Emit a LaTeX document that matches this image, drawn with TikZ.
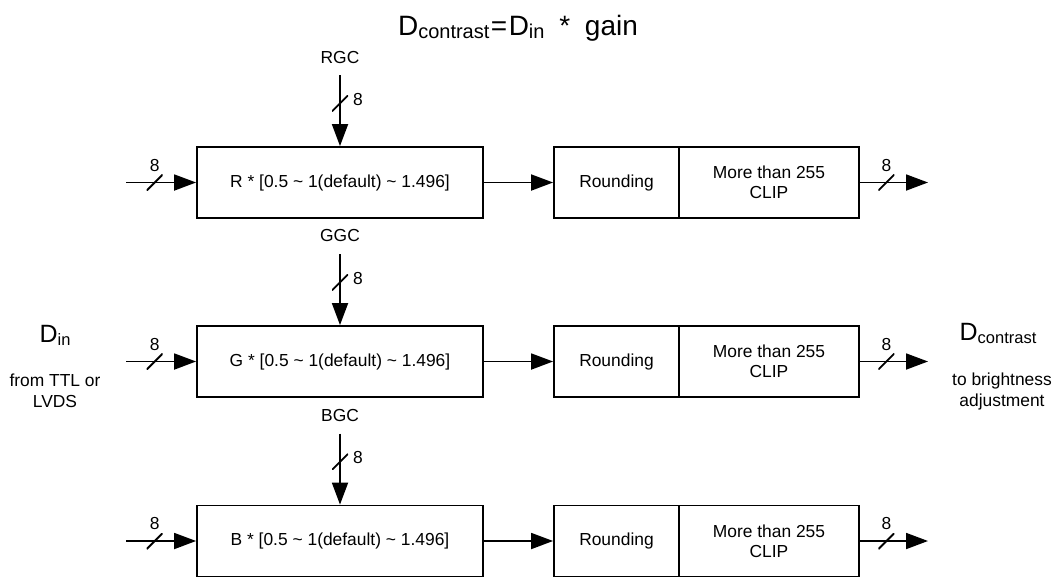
\documentclass[tikz,border=0pt]{standalone}
\usepackage{fontspec}
\setmainfont{Liberation Sans}
\usetikzlibrary{arrows.meta,calc}

\newcommand{\lowtxt}[2]{\raisebox{-0.14em}{\fontsize{#1}{#1}\selectfont #2}}

\begin{document}
\begin{tikzpicture}[
  x=1pt, y=-1pt,
  >={Triangle[length=22pt,width=16pt]},
  line width=1.8pt,
  font=\fontsize{17.4}{20}\selectfont,
  blk/.style={draw, minimum height=71pt, minimum width=#1, inner sep=0pt, align=center},
  arr/.style={->},
  bus/.style={inner sep=0pt, minimum size=16pt,
    path picture={\draw[-] (path picture bounding box.south west) -- (path picture bounding box.north east);}},
  note/.style={align=center, font=\fontsize{17.4}{21}\selectfont},
]
\useasboundingbox (0,0) rectangle (1055,576);

% ---- title ----
\node[font=\fontsize{28}{32}\selectfont, anchor=base] (title) at (518,35)
  {D\lowtxt{20}{contrast}\hspace{1.5pt}=\hspace{1.5pt}D\lowtxt{20}{in}\hspace{7pt} *\hspace{7pt} gain};

% ---- side labels ----
\node[font=\fontsize{25}{28}\selectfont, anchor=base] (din) at (55,342) {D\lowtxt{16.5}{in}};
\node[note] (dinnote) at (55,391) {from TTL or\\LVDS};
\node[font=\fontsize{25}{28}\selectfont, anchor=base] (dout) at (998,340) {D\lowtxt{16.5}{contrast}};
\node[note] (doutnote) at (1002,391) {to brightness\\adjustment};

% ---- R row ----
\node (rgc) at (340,58) {RGC};
\node[blk=286pt] (rmul) at (340,182.5) {R * [0.5 \textasciitilde{} 1(default) \textasciitilde{} 1.496]};
\node[blk=125pt] (rround) at (616.5,182.5) {Rounding};
\node[blk=180pt] (rclip) at (769,182.5) {More than 255\\CLIP};
\coordinate (rin) at (126,182.5);
\coordinate (rout) at (928,182.5);
\coordinate (rtop) at (340,75);

\draw[arr] (rin) -- (rmul) node[pos=0.41, bus] {} node[pos=0.41, yshift=17pt] {8};
\draw[arr] (rtop) -- (rmul) node[pos=0.4, bus] {} node[pos=0.4, xshift=18pt, yshift=4pt] {8};
\draw[arr] (rmul) -- (rround);
\draw[arr] (rclip) -- (rout) node[pos=0.39, bus] {} node[pos=0.39, yshift=17pt] {8};

% ---- G row ----
\node (ggc) at (340,236) {GGC};
\node[blk=286pt] (gmul) at (340,361.5) {G * [0.5 \textasciitilde{} 1(default) \textasciitilde{} 1.496]};
\node[blk=125pt] (ground) at (616.5,361.5) {Rounding};
\node[blk=180pt] (gclip) at (769,361.5) {More than 255\\CLIP};
\coordinate (gin) at (126,361.5);
\coordinate (gout) at (928,361.5);
\coordinate (gtop) at (340,254);

\draw[arr] (gin) -- (gmul) node[pos=0.41, bus] {} node[pos=0.41, yshift=17pt] {8};
\draw[arr] (gtop) -- (gmul) node[pos=0.4, bus] {} node[pos=0.4, xshift=18pt, yshift=4pt] {8};
\draw[arr] (gmul) -- (ground);
\draw[arr] (gclip) -- (gout) node[pos=0.39, bus] {} node[pos=0.39, yshift=17pt] {8};

% ---- B row ----
\node (bgc) at (340,416) {BGC};
\node[blk=286pt] (bmul) at (340,541) {B * [0.5 \textasciitilde{} 1(default) \textasciitilde{} 1.496]};
\node[blk=125pt] (bround) at (616.5,541) {Rounding};
\node[blk=180pt] (bclip) at (769,541) {More than 255\\CLIP};
\coordinate (bin) at (126,541);
\coordinate (bout) at (928,541);
\coordinate (btop) at (340,433.5);

\draw[arr] (bin) -- (bmul) node[pos=0.41, bus] {} node[pos=0.41, yshift=17pt] {8};
\draw[arr] (btop) -- (bmul) node[pos=0.4, bus] {} node[pos=0.4, xshift=18pt, yshift=4pt] {8};
\draw[arr] (bmul) -- (bround);
\draw[arr] (bclip) -- (bout) node[pos=0.39, bus] {} node[pos=0.39, yshift=17pt] {8};

\end{tikzpicture}
\end{document}
